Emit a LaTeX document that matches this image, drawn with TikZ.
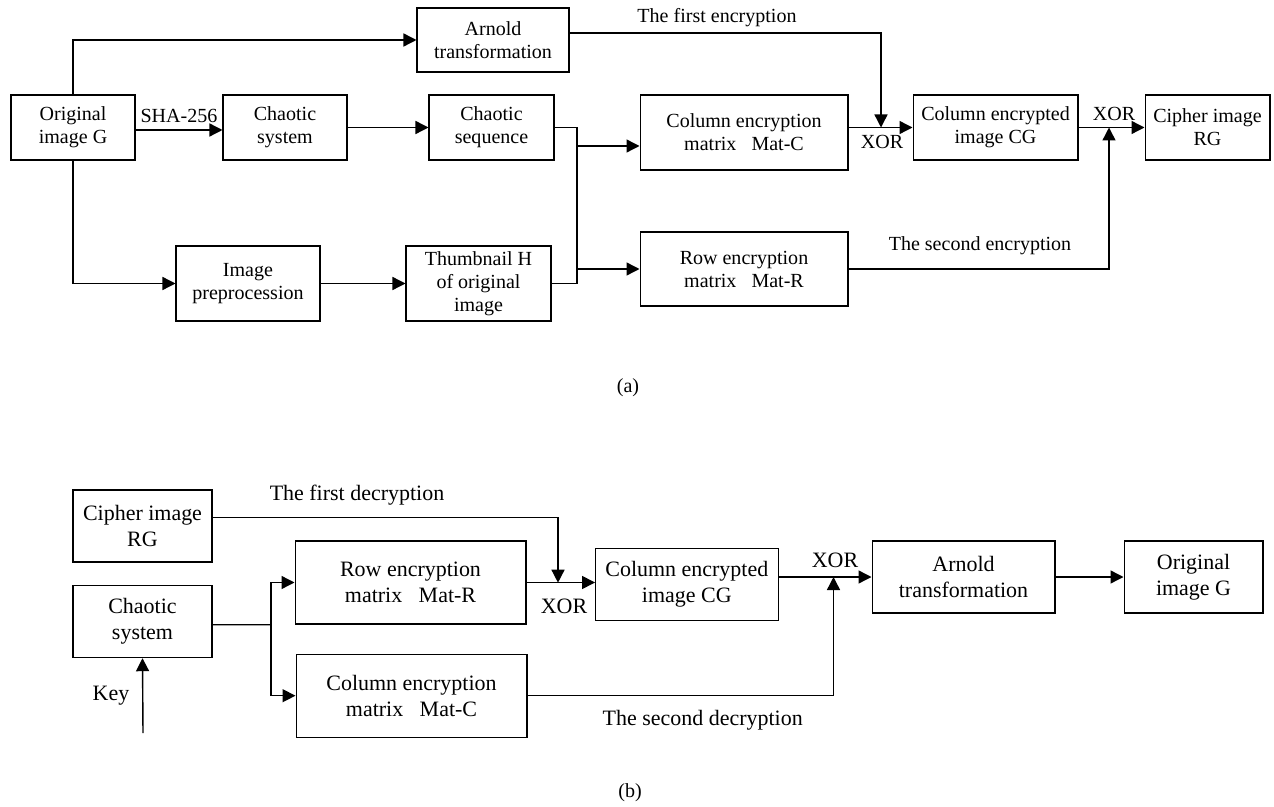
\documentclass[tikz,border=0pt]{standalone}
\usepackage{fontspec}
\setmainfont{Liberation Serif}
\usetikzlibrary{arrows.meta}

\begin{document}
\begin{tikzpicture}[
        x=0.02cm, y=-0.02cm,
        box/.style={rectangle, draw, line width=0.6pt, text centered, align=center, inner sep=0pt},
        txta/.style={font=\fontsize{11.4}{13.1}\selectfont},
        txtb/.style={font=\fontsize{12.5}{14.8}\selectfont},
        link/.style={line width=0.8pt},
        flow/.style={-{Triangle[length=0.26cm, width=0.26cm]}, line width=0.8pt}
    ]
    \useasboundingbox (0,0) rectangle (1274,807);

    % (a) encryption blocks
    \node[box, txta, minimum width=2.48cm, minimum height=1.3cm] (orig) at (73,127.5) {Original\\image G};
    \node[box, txta, minimum width=3.04cm, minimum height=1.28cm] (arnold) at (493,40) {Arnold\\transformation};
    \node[box, txta, minimum width=2.48cm, minimum height=1.3cm] (chaos) at (285,127.5) {Chaotic\\system};
    \node[box, txta, minimum width=2.5cm, minimum height=1.3cm] (seq) at (491.5,127.5) {Chaotic\\sequence};
    \node[box, txta, minimum width=4.16cm, minimum height=1.5cm] (matc) at (744,132.5) {Column encryption\\matrix\ \ \ Mat-C};
    \node[box, txta, minimum width=4.16cm, minimum height=1.48cm] (matr) at (744,269) {Row encryption\\matrix\ \ \ Mat-R};
    \node[box, txta, minimum width=2.88cm, minimum height=1.5cm] (prep) at (248,283.5) {Image\\preprocession};
    \node[box, txta, minimum width=2.9cm, minimum height=1.5cm] (thumb) at (478.5,283.5) {Thumbnail H\\of original\\image};
    \node[box, txta, minimum width=3.3cm, minimum height=1.3cm] (cg) at (995.5,127.5) {Column encrypted\\image CG};
    \node[box, txta, minimum width=2.5cm, minimum height=1.3cm] (rg) at (1207.5,127.5) {Cipher image\\RG};

    % (a) junctions
    \coordinate (bustop) at (577,127.5);
    \coordinate (busbot) at (577,283.5);
    \coordinate (tapc) at (577,146);
    \coordinate (tapr) at (577,269);
    \coordinate (xor1) at (881,127.5);
    \coordinate (xor2) at (1109,127.5);

    % (a) connectors
    \draw[flow] (orig.north) |- (arnold.west);
    \draw[flow] ([yshift=-0.05cm]orig.east) -- node[above, txta, inner sep=4pt] (sha) {SHA-256} ([yshift=-0.05cm]chaos.west);
    \draw[flow] (chaos) -- (seq);
    \draw[link] (seq.east) -- (bustop) -- (busbot) -- (thumb.east);
    \draw[flow] (tapc) -- (tapc -| matc.west);
    \draw[flow] (tapr) -- (matr.west);
    \draw[flow] (orig.south) |- (prep.west);
    \draw[flow] (prep) -- (thumb);
    \draw[flow] ([yshift=0.14cm]arnold.east) -| (xor1);
    \draw[flow] (matc.east |- cg.west) -- (cg.west);
    \draw[flow] (cg) -- (rg);
    \draw[flow] (matr.east) -| (xor2);

    % (a) labels
    \node[txta] (enc1) at (717,18) {The first encryption};
    \node[txta] (enc2) at (980,246) {The second encryption};
    \node[txta] (xorlab1) at (882,142) {XOR};
    \node[txta] (xorlab2) at (1114,114) {XOR};
    \node[txta] (capa) at (628,388) {(a)};

    % (b) decryption blocks
    \node[box, txtb, minimum width=2.78cm, minimum height=1.44cm] (rgb) at (142.5,526) {Cipher image\\RG};
    \node[box, txtb, minimum width=2.78cm, minimum height=1.44cm] (chaosb) at (142.5,621.7) {Chaotic\\system};
    \node[box, txtb, minimum width=4.62cm, minimum height=1.66cm] (matrb) at (410.5,582.5) {Row encryption\\matrix\ \ \ Mat-R};
    \node[box, txtb, minimum width=4.62cm, minimum height=1.66cm] (matcb) at (411.5,695.7) {Column encryption\\matrix\ \ \ Mat-C};
    \node[box, txtb, minimum width=3.65cm, minimum height=1.44cm] (cgb) at (686.8,584.2) {Column encrypted\\image CG};
    \node[box, txtb, minimum width=3.66cm, minimum height=1.44cm] (arnoldb) at (963.5,577) {Arnold\\transformation};
    \node[box, txtb, minimum width=2.78cm, minimum height=1.44cm] (origb) at (1193.5,577) {Original\\image G};

    % (b) junctions
    \coordinate (split) at (271,624.7);
    \coordinate (xor3) at (558,582.7);
    \coordinate (xor4) at (833.5,577);
    \coordinate (keyin) at (143,733);

    % (b) connectors
    \draw[flow] ([yshift=0.166cm]rgb.east) -| (xor3);
    \draw[link] ([yshift=-0.06cm]chaosb.east) -- (split);
    \draw[flow] (split) |- (matrb.west);
    \draw[flow] (split) |- (matcb.west);
    \draw[flow] (matrb.east) -- (matrb.east -| cgb.west);
    \draw[flow] (cgb.east |- arnoldb.west) -- (arnoldb.west);
    \draw[flow] (matcb.east) -| (xor4);
    \draw[flow] (arnoldb) -- (origb);
    \draw[flow] (keyin) -- (chaosb.south);

    % (b) labels
    \node[txtb] (dec1) at (357,495) {The first decryption};
    \node[txtb] (dec2) at (702.7,720.7) {The second decryption};
    \node[txtb] (xorlab3) at (564,606.7) {XOR};
    \node[txtb] (xorlab4) at (835,560.7) {XOR};
    \node[txtb] (key) at (111,696) {Key};
    \node[txta] (capb) at (630,793) {(b)};

\end{tikzpicture}
\end{document}
